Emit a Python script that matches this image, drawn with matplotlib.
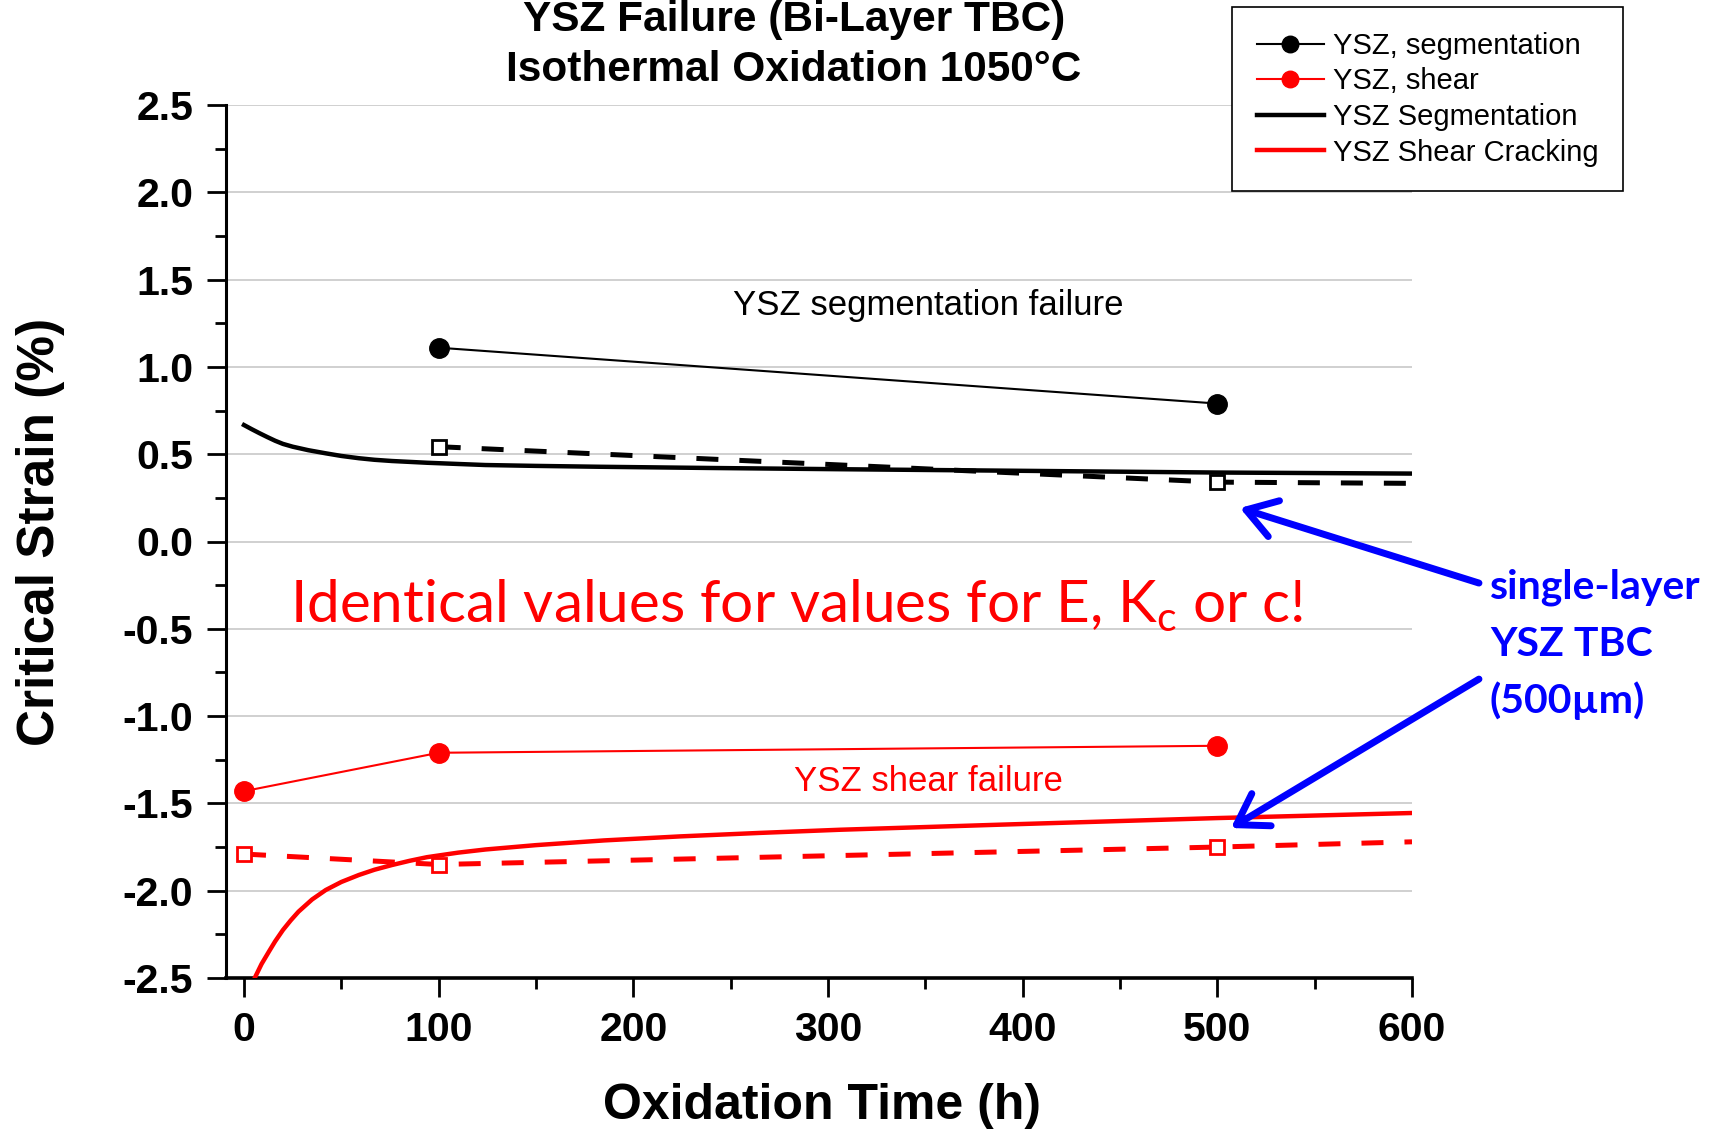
import matplotlib
matplotlib.use('Agg')
import matplotlib.pyplot as plt
from matplotlib.ticker import MultipleLocator

# Measured critical strain (%) vs. oxidation time (h)
seg_pts_t = [100, 500]
seg_pts_v = [1.11, 0.79]
shear_pts_t = [0, 100, 500]
shear_pts_v = [-1.43, -1.21, -1.17]

# Single-layer YSZ TBC (500 um) reference values
single_seg_t = [100, 500, 600]
single_seg_v = [0.543, 0.340, 0.333]
single_shear_t = [0, 100, 500, 600]
single_shear_v = [-1.79, -1.85, -1.75, -1.72]
single_seg_marks_t = [100, 500]
single_seg_marks_v = [0.543, 0.340]
single_shear_marks_t = [0, 100, 500]
single_shear_marks_v = [-1.79, -1.85, -1.75]

# Model curves
seg_curve_t = [0, 4, 8, 12, 16, 20, 25, 33, 42, 50, 59, 67, 76, 85, 94, 110, 124,
               150, 183, 240, 306, 388, 500, 600]
seg_curve_v = [0.667, 0.643, 0.620, 0.598, 0.577, 0.559, 0.543, 0.523, 0.505,
               0.490, 0.477, 0.468, 0.461, 0.456, 0.451, 0.444, 0.438, 0.433,
               0.428, 0.421, 0.414, 0.406, 0.395, 0.389]
shear_curve_t = [5.5, 9, 13, 16, 20, 24, 28, 35, 42, 50, 59, 67, 76, 85, 94, 110,
                 124, 150, 185, 224, 265, 306, 388, 500, 600]
shear_curve_v = [-2.50, -2.42, -2.345, -2.29, -2.225, -2.17, -2.12, -2.05,
                 -1.996, -1.95, -1.91, -1.88, -1.853, -1.829, -1.808, -1.782,
                 -1.764, -1.739, -1.712, -1.689, -1.669, -1.651, -1.622, -1.584,
                 -1.555]

RED = '#ff0000'
BLUE = '#0000ff'

plt.rcParams['font.family'] = ['Liberation Sans', 'DejaVu Sans']

fig = plt.figure(figsize=(17.35, 11.34), dpi=100)
ax = fig.add_axes([226 / 1735, 1 - 978 / 1134, 1186 / 1735, 873 / 1134])

# model curves
l_seg_curve, = ax.plot(seg_curve_t, seg_curve_v, color='black', lw=3.2,
                       label='YSZ Segmentation', zorder=3)
l_shear_curve, = ax.plot(shear_curve_t, shear_curve_v, color=RED, lw=3.2,
                         label='YSZ Shear Cracking', zorder=3)

# single-layer dashed lines with open squares
ax.plot(single_seg_t, single_seg_v, color='black', lw=3.6, dashes=(4.4, 4.2), zorder=3)
ax.plot(single_shear_t, single_shear_v, color=RED, lw=3.6, dashes=(4.4, 4.2), zorder=3)
ax.plot(single_seg_marks_t, single_seg_marks_v, 's', ms=10.5, mfc='white',
        mec='black', mew=2, zorder=4)
ax.plot(single_shear_marks_t, single_shear_marks_v, 's', ms=10.5, mfc='white',
        mec=RED, mew=2, zorder=4)

# measured points
l_seg_pts, = ax.plot(seg_pts_t, seg_pts_v, 'o-', color='black', lw=1.5, ms=14,
                     label='YSZ, segmentation', zorder=5)
l_shear_pts, = ax.plot(shear_pts_t, shear_pts_v, 'o-', color=RED, lw=1.5, ms=14,
                       label='YSZ, shear', zorder=5)

ax.set_xlim(-9.25, 600)
ax.set_ylim(-2.5, 2.5)
ax.xaxis.set_major_locator(MultipleLocator(100))
ax.xaxis.set_minor_locator(MultipleLocator(50))
ax.yaxis.set_major_locator(MultipleLocator(0.5))
ax.yaxis.set_minor_locator(MultipleLocator(0.25))
ax.yaxis.set_major_formatter(plt.FuncFormatter(lambda v, p: f'{v:.1f}'))

ax.tick_params(which='major', direction='out', length=13.5, width=2, pad=10,
               labelsize=29.5)
ax.tick_params(which='minor', direction='out', length=8, width=2)
for lab in ax.get_xticklabels() + ax.get_yticklabels():
    lab.set_fontweight('bold')

for side in ['top', 'right']:
    ax.spines[side].set_visible(False)
ax.spines['left'].set_linewidth(2.2)
ax.spines['bottom'].set_linewidth(2.6)

ax.grid(axis='y', which='major', color='#c8c8c8', lw=1.2)
ax.set_axisbelow(True)
ygrid = ax.get_ygridlines()
ygrid[0].set_visible(False)
ygrid[-1].set_visible(False)

ax.set_xlabel('Oxidation Time (h)', fontsize=36, fontweight='bold', va='center')
ax.xaxis.set_label_coords(0.5025, -0.1466)
ax.set_ylabel('Critical Strain (%)', fontsize=37, fontweight='bold', va='center')
ax.yaxis.set_label_coords(-0.1568, 0.511)

# two-line title
fig.text(0.4576, 1 - 31 / 1134, 'YSZ Failure (Bi-Layer TBC)', fontsize=30.5,
         fontweight='bold', ha='center', va='baseline')
fig.text(0.4576, 1 - 81 / 1134, 'Isothermal Oxidation 1050°C', fontsize=30.5,
         fontweight='bold', ha='center', va='baseline')

# curve annotations
ax.text(351.4, 1.354, 'YSZ segmentation failure', fontsize=25, color='black',
        ha='center', va='center')
ax.text(351.4, -1.372, 'YSZ shear failure', fontsize=25, color=RED,
        ha='center', va='center')

ax.text(23.6, -0.461, r'Identical values for values for E, K$_\mathregular{c}$ or c!',
        fontsize=42, color=RED, family=['Lato', 'DejaVu Sans'],
        ha='left', va='baseline')

# single-layer note with arrows
note_lines = ['single-layer', 'YSZ TBC', '(500µm)']
note_y = [-0.329, -0.656, -0.982]
for txt, y in zip(note_lines, note_y):
    ax.text(640, y, txt, fontsize=29.5, color=BLUE, fontweight='bold',
            family=['Lato', 'DejaVu Sans'], ha='left', va='baseline', clip_on=False)

arrow_kw = dict(arrowstyle='->,head_length=0.7,head_width=0.45', color=BLUE,
                lw=5, mutation_scale=30, shrinkA=0, shrinkB=0)
ax.annotate('', xy=(511.6, 0.192), xytext=(634.4, -0.238),
            arrowprops=arrow_kw, annotation_clip=False, zorder=6)
ax.annotate('', xy=(507, -1.641), xytext=(634.4, -0.788),
            arrowprops=arrow_kw, annotation_clip=False, zorder=6)

leg = ax.legend(handles=[l_seg_pts, l_shear_pts, l_seg_curve, l_shear_curve],
                loc='upper left', bbox_to_anchor=(1232 / 1735, 1 - 7 / 1134),
                bbox_transform=fig.transFigure, borderaxespad=0, fontsize=21,
                handlelength=2.3, handletextpad=0.3, borderpad=0.85,
                labelspacing=0.26, fancybox=False, framealpha=1,
                edgecolor='black', markerscale=0.85)
leg.get_frame().set_linewidth(1.2)

plt.savefig('out.png', dpi=100)
